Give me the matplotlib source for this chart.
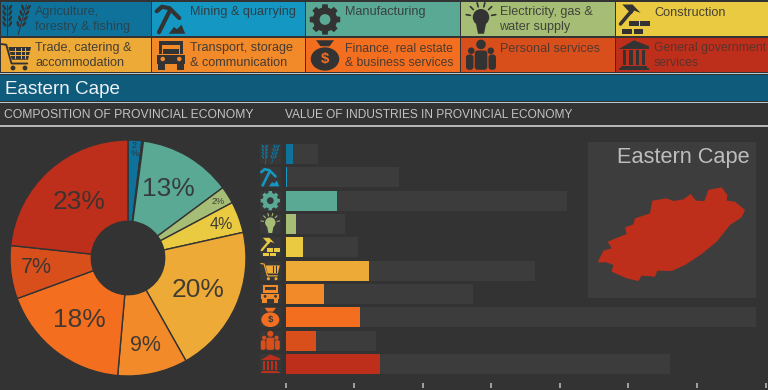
import numpy as np
import matplotlib
matplotlib.use("Agg")
import matplotlib.pyplot as plt
from matplotlib.patches import Rectangle, Circle, Ellipse, Polygon, FancyBboxPatch

plt.rcParams["font.family"] = ["Liberation Sans", "DejaVu Sans"]

W, H = 768, 390
BG = "#333333"
INK = "#333333"

# Data #
sectors = ["Agriculture,\nforestry & fishing", "Mining & quarrying", "Manufacturing",
           "Electricity, gas &\nwater supply", "Construction",
           "Trade, catering &\naccommodation", "Transport, storage\n& communication",
           "Finance, real estate\n& business services", "Personal services",
           "General government\nservices"]
colors = ["#0f729b", "#1497c2", "#5aa995", "#a5bd74", "#eaca40",
          "#eeaa36", "#f28a2a", "#f36f1f", "#d84f1c", "#bd2f1b"]
icons = ["wheat", "pick", "gear", "bulb", "hammer", "cart", "truck", "bag", "people", "bank"]
legend_sizes = [9.1, 9.1, 9.1, 9.1, 9.1, 9.1, 9.1, 8.85, 9.1, 8.85]
legend_alpha = [0.72, 0.88, 0.88, 0.88, 0.9, 0.9, 0.9, 0.88, 0.8, 0.7]
shares = [1.9, 0.2, 12.8, 2.4, 4.3, 20.4, 9.6, 18.1, 7.3, 23.4]
share_labels = ["2\n%", "", "13%", "2%", "4%", "20%", "9%", "18%", "7%", "23%"]
label_sizes = [6.5, 0, 19, 6.5, 11.5, 19, 15.5, 19, 15.5, 19]
label_radius = [0.92, 0, 0.68, 0.90, 0.84, 0.65, 0.76, 0.67, 0.78, 0.63]
province_values = [5.8, 1.0, 37.9, 7.3, 13.1, 61.2, 28.0, 54.0, 21.9, 69.2]
industry_values = [24, 83, 205.5, 43.7, 53.2, 182, 137, 342.6, 66.3, 280.6]
tick_values = [0, 50, 100, 150, 200, 250, 300, 350]
province = "Eastern Cape"
map_outline = [(83, 397), (100, 362), (125, 355), (113, 335), (145, 322), (170, 312), (165, 292),
               (190, 283), (195, 265), (240, 250), (247, 212), (290, 205), (310, 213), (340, 208),
               (362, 192), (378, 212), (403, 213), (415, 180), (455, 172), (472, 195), (470, 212),
               (495, 215), (525, 240), (515, 262), (480, 285), (440, 335), (395, 372), (345, 405),
               (305, 423), (262, 422), (255, 440), (215, 437), (205, 453), (170, 445), (125, 425),
               (130, 405), (110, 397)]


def px_axes(fig, x0, y0, x1, y1):
    return fig.add_axes([x0 / W, 1 - y1 / H, (x1 - x0) / W, (y1 - y0) / H])


def draw_icon(ax, kind, cx, cy, s, color, bg):
    # icons live in a -1..1 box, y pointing down
    def P(pts, **kw):
        pts = [(cx + x * s, cy + y * s) for x, y in pts]
        ax.add_patch(Polygon(pts, closed=True, fc=kw.get("fc", color), ec="none", zorder=kw.get("z", 3)))

    def R(x0, y0, x1, y1, **kw):
        P([(x0, y0), (x1, y0), (x1, y1), (x0, y1)], **kw)

    def C(x, y, r, **kw):
        ax.add_patch(Circle((cx + x * s, cy + y * s), r * s, fc=kw.get("fc", color), ec="none",
                            zorder=kw.get("z", 3)))

    def L(pts, lw=1.0):
        xs = [cx + x * s for x, y in pts]
        ys = [cy + y * s for x, y in pts]
        ax.plot(xs, ys, color=color, lw=lw * s / 10, solid_capstyle="round", zorder=3)

    if kind == "wheat":
        for x0, tilt in [(-0.58, 0.0), (0.42, 0.28)]:
            L([(x0 - tilt, 1.0), (x0 + tilt, -1.0)], 0.5)
            for t in np.linspace(-0.8, 0.3, 4):
                xm = x0 - tilt * t
                for side in (-1, 1):
                    ax.add_patch(Ellipse((cx + (xm + side * 0.2) * s, cy + t * s), 0.17 * s, 0.42 * s,
                                         angle=side * 28 + tilt * 40, fc=color, ec="none", zorder=3))
    elif kind == "pick":
        L([(-0.95, -0.55), (-0.6, -0.85), (-0.1, -0.75), (0.55, -0.1)], 2.0)
        L([(-0.1, -0.55), (-0.8, 0.85)], 2.0)
        P([(-0.15, 0.95), (0.2, 0.5), (0.4, 0.65), (0.7, 0.35), (0.95, 0.95)])
    elif kind == "gear":
        teeth = []
        for a in np.arange(0, 360, 45):
            for da, r in [(-15, 0.8), (-10, 1.03), (10, 1.03), (15, 0.8)]:
                t = np.radians(a + da)
                teeth.append((r * np.sin(t), -r * np.cos(t)))
        P(teeth)
        C(0, 0, 0.8)
        C(0, 0, 0.36, fc=bg, z=4)
    elif kind == "bulb":
        C(0, -0.15, 0.55)
        P([(-0.35, 0.2), (0.35, 0.2), (0.2, 0.95), (-0.2, 0.95)])
        for a in (-80, -45, -15, 15, 45, 80):
            r = np.radians(a)
            L([(0.72 * np.sin(r), -0.15 - 0.72 * np.cos(r)), (1.0 * np.sin(r), -0.15 - 1.0 * np.cos(r))], 0.8)
    elif kind == "hammer":
        L([(-0.9, 0.3), (-0.1, -0.65)], 1.7)
        P([(-0.78, -1.0), (-0.1, -1.0), (0.44, -0.44), (0.0, -0.6), (-0.15, -0.35), (-0.5, -0.7)])
        R(-0.33, 0.11, 0.33, 0.44)
        R(0.4, 0.11, 1.07, 0.44)
        R(-0.78, 0.62, -0.11, 0.95)
        R(0.0, 0.62, 0.62, 0.95)
    elif kind == "cart":
        L([(-1.0, -0.75), (-0.65, -0.7), (-0.3, 0.55), (0.75, 0.55)], 0.9)
        P([(-0.5, -0.55), (1.0, -0.55), (0.8, 0.3), (-0.28, 0.3)])
        for y in (-0.3, 0.0):
            R(-0.4, y, 0.9, y + 0.07, fc=bg, z=4)
        for x in (-0.05, 0.3, 0.62):
            R(x, -0.5, x + 0.07, 0.25, fc=bg, z=4)
        C(-0.2, 0.85, 0.16)
        C(0.6, 0.85, 0.16)
    elif kind == "truck":
        R(-0.8, -0.95, 0.8, -0.1)
        R(-0.6, -0.7, 0.6, -0.1, fc=bg, z=4)
        R(-0.55, -0.4, 0.55, -0.1, z=5)
        R(-0.95, -0.05, 0.95, 0.55)
        C(-0.55, 0.25, 0.15, fc=bg, z=4)
        C(0.55, 0.25, 0.15, fc=bg, z=4)
        R(-0.85, 0.5, -0.4, 1.0)
        R(0.4, 0.5, 0.85, 1.0)
    elif kind == "bag":
        P([(-0.6, -1.0), (0.6, -1.0), (0.3, -0.6), (-0.3, -0.6)])
        ax.add_patch(Ellipse((cx, cy + 0.25 * s), 1.9 * s, 1.55 * s, fc=color, ec="none", zorder=3))
        ax.text(cx, cy + 0.28 * s, "$", color=bg, fontsize=s * 0.72, fontweight="bold",
                ha="center", va="center", zorder=4)
    elif kind == "people":
        C(0, -0.72, 0.32)
        C(-0.65, -0.3, 0.22)
        C(0.65, -0.3, 0.22)
        for x0, x1, y0 in [(-1.0, -0.5, -0.05), (0.5, 1.0, -0.05), (-0.42, 0.42, -0.32)]:
            ax.add_patch(FancyBboxPatch((cx + x0 * s, cy + y0 * s), (x1 - x0) * s, (0.97 - y0) * s,
                                        boxstyle="round,pad=0,rounding_size=%.2f" % (0.2 * s),
                                        fc=color, ec="none", zorder=3))
    elif kind == "bank":
        P([(0, -1.0), (1.0, -0.6), (1.0, -0.42), (-1.0, -0.42)])
        for x in (-0.62, -0.21, 0.21, 0.62):
            R(x - 0.11, -0.35, x + 0.11, 0.65)
        R(-0.85, 0.7, 0.85, 0.82)
        R(-1.0, 0.85, 1.0, 1.0)


fig = plt.figure(figsize=(W / 100, H / 100), dpi=100, facecolor=BG)

# Header and legend #
ax = px_axes(fig, 0, 0, W, H)
ax.set_xlim(0, W)
ax.set_ylim(H, 0)
ax.axis("off")

cell_x = [0, 151.5, 305.5, 460.5, 615, 768]
cell_y = [(2, 36), (38, 71.5)]
icon_x = [16, 171, 325, 481, 634]
text_x = [35, 189.5, 345, 499.5, 654]
for i, name in enumerate(sectors):
    row, col = divmod(i, 5)
    x0, x1 = cell_x[col], cell_x[col + 1]
    y0, y1 = cell_y[row]
    ax.add_patch(Rectangle((x0 + 0.5, y0), x1 - x0 - 1, y1 - y0, fc=colors[i], ec="none", zorder=1))
    draw_icon(ax, icons[i], icon_x[col], (y0 + y1) / 2 + 0.5, 15, INK, colors[i])
    ax.text(text_x[col], y0 + 4.5, name, color=INK, alpha=legend_alpha[i], fontsize=legend_sizes[i],
            linespacing=1.33, ha="left", va="top", zorder=3)

ax.add_patch(Rectangle((0, 73), W, 1.2, fc="#b8c8d0", ec="none"))
ax.add_patch(Rectangle((0, 75), W, 26, fc="#0f5b7c", ec="none"))
ax.add_patch(Rectangle((0, 101.5), W, 1.2, fc="#b8c8d0", ec="none"))
ax.add_patch(Rectangle((0, 125), W, 1.6, fc="#b5b5b5", ec="none"))
ax.text(5, 89.5, province, color="#eef2f4", fontsize=13.55, ha="left", va="center")
ax.text(4, 115.5, "COMPOSITION OF PROVINCIAL ECONOMY", color="#c4c4c4", fontsize=8.75, ha="left", va="center")
ax.text(285, 115.5, "VALUE OF INDUSTRIES IN PROVINCIAL ECONOMY", color="#c4c4c4", fontsize=8.6,
        ha="left", va="center")

# Icon tiles beside the bars #
row_y0, row_step = 154, 23.33
for i, kind in enumerate(icons):
    yc = row_y0 + i * row_step
    ax.add_patch(Rectangle((260, yc - 10), 20.5, 20, fc="#383838", ec="none", zorder=1))
    draw_icon(ax, kind, 270.3, yc, 9.5, colors[i], "#383838")

# Province panel #
ax.add_patch(Rectangle((588, 142), 168, 156, fc="#3d3d3d", ec="none", zorder=1))
ax.text(749.5, 157.5, province, color="#bdbdbd", fontsize=15.65, ha="right", va="center", zorder=3)
ax.add_patch(Polygon([(570 + x / 3, 130 + y / 3) for x, y in map_outline], closed=True,
                     fc="#bd2f1b", ec="none", zorder=2))

# Pie #
pie_r, hole_r = 118, 36.7
ax_pie = px_axes(fig, 128 - pie_r, 258 - pie_r, 128 + pie_r, 258 + pie_r)
ax_pie.pie(shares, colors=colors, startangle=90, counterclock=False, radius=1,
           wedgeprops=dict(width=1 - hole_r / pie_r, edgecolor=BG, linewidth=1.0))
ax_pie.set_xlim(-1, 1)
ax_pie.set_ylim(-1, 1)
ax_pie.set_aspect("equal")
start = 0.0
for share, lab, size, rad in zip(shares, share_labels, label_sizes, label_radius):
    mid = np.radians((start + share / 2) * 3.6)
    start += share
    if lab:
        ax_pie.text(rad * np.sin(mid), rad * np.cos(mid), lab, color=INK, alpha=0.92, fontsize=size,
                    linespacing=0.85, ha="center", va="center")

# Bars #
ax_bar = px_axes(fig, 285.5, 130, W, 388)
ax_bar.patch.set_alpha(0)
rows = np.arange(len(sectors))
ax_bar.barh(rows, industry_values, height=0.857, color="#3c3c3c", zorder=1)
ax_bar.barh(rows, province_values, height=0.857, color=colors, zorder=2)
ax_bar.set_xlim(0, 351.7)
ax_bar.set_ylim((388 - row_y0) / row_step, (130 - row_y0) / row_step)
ax_bar.set_xticks(tick_values)
ax_bar.set_xticklabels([])
ax_bar.set_yticks([])
ax_bar.tick_params(axis="x", direction="in", length=3.5, width=1.2, color="#b5b5b5", pad=0)
for spine in ax_bar.spines.values():
    spine.set_visible(False)

fig.savefig("out.png", dpi=100, facecolor=BG)
